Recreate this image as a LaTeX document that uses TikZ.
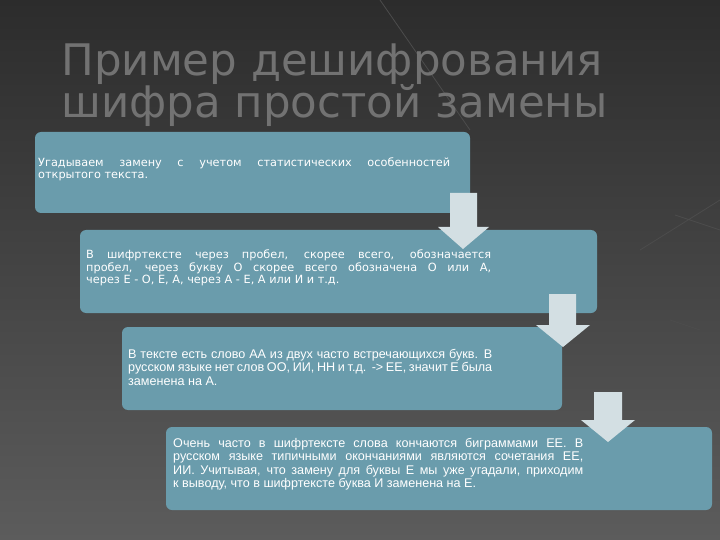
\documentclass[tikz,border=0pt]{standalone}
\usepackage{fontspec}
\setmainfont{Liberation Sans}
\newfontfamily\titlefont{DejaVu Sans}
\newfontfamily\boxfont{DejaVu Sans}
\begin{document}
\begin{tikzpicture}[x=1pt,y=-1pt,
  box/.style={fill=boxc,rounded corners=6pt,inner sep=0pt},
  txt/.style={anchor=north west,text=white,align=justify,inner sep=0pt,font=\fontsize{12.6}{13.5}\selectfont},
  arr/.style={fill=arrc,draw=none}]
\definecolor{boxc}{HTML}{6A9CAC}
\definecolor{arrc}{HTML}{D3DFE3}
\definecolor{titc}{HTML}{727272}
\shade[top color={rgb,255:red,44;green,44;blue,44},bottom color={rgb,255:red,92;green,92;blue,92}] (0,0) rectangle (720,540);
\useasboundingbox (0,0) rectangle (720,540);
\draw[gray!60!black,line width=0.8pt] (380,0) -- (470,130) (640,250) -- (720,200) (670,320)--(700,330) (675,215)--(720,230);
\node[anchor=west,text=titc,font=\titlefont\fontsize{43.5}{46}\selectfont] (t1) at (58,64) {Пример дешифрования};
\node[anchor=west,text=titc,font=\titlefont\fontsize{43.5}{46}\selectfont] (t2) at (58,106) {шифра простой замены};
\fill[box] (35,132) rectangle (470,213);
\node[txt,font=\boxfont\fontsize{11.3}{12}\selectfont,text width=412pt] (x1) at (38,158) {Угадываем замену с учетом статистических особенностей\linebreak открытого текста.};
\fill[box] (80,230) rectangle (597,313);
\node[txt,font=\boxfont\fontsize{11.3}{12.5}\selectfont,text width=405pt] (x2) at (86,250) {В шифртексте через пробел, скорее всего, обозначается\linebreak пробел, через букву О скорее всего обозначена О или А,\linebreak через Е - О, Е, А, через А - Е, А или И и т.д.};
\fill[box] (122,327) rectangle (562,410);
\node[txt,text width=364pt] (x3) at (128,349) {В тексте есть слово АА из двух часто встречающихся букв. В\linebreak русском языке нет слов ОО, ИИ, НН и т.д.\ \ -> ЕЕ, значит Е была\linebreak заменена на А.};
\fill[box] (166,427) rectangle (712,510);
\node[txt,text width=410pt] (x4) at (173,438) {Очень часто в шифртексте слова кончаются биграммами ЕЕ. В\linebreak русском языке типичными окончаниями являются сочетания ЕЕ,\linebreak ИИ. Учитывая, что замену для буквы Е мы уже угадали, приходим\linebreak к выводу, что в шифртексте буква И заменена на Е.};
\fill[arr] (450,193) -- (477,193) -- (477,227) -- (489,227) -- (463,249) -- (438,227) -- (450,227) -- cycle;
\fill[arr] (549,294) -- (576,294) -- (576,325) -- (590,325) -- (563,347) -- (536,325) -- (549,325) -- cycle;
\fill[arr] (594,392) -- (622,392) -- (622,420) -- (635,420) -- (608,442) -- (581,420) -- (594,420) -- cycle;
\end{tikzpicture}
\end{document}
